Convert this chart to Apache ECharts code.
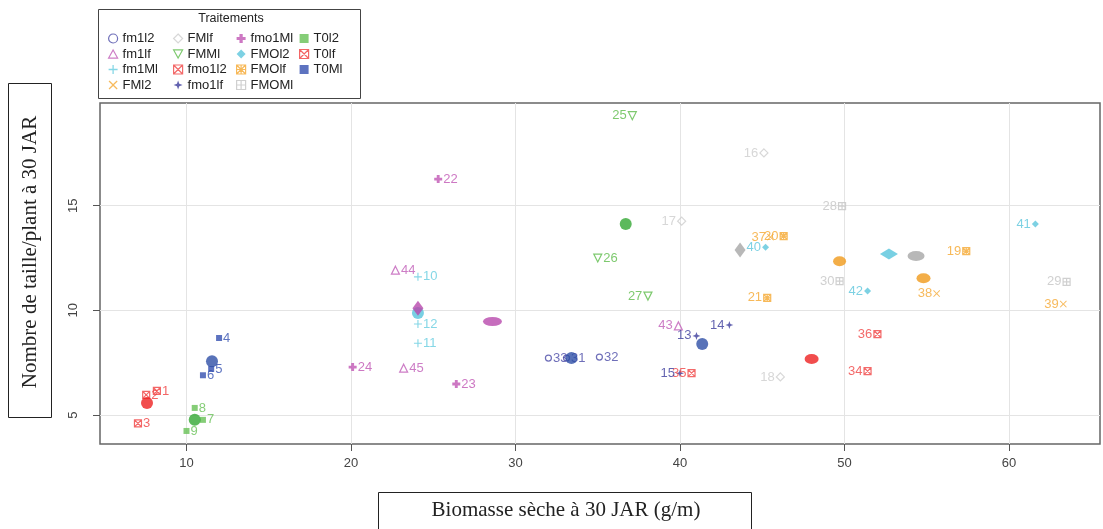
<!DOCTYPE html>
<html>
<head>
<meta charset="utf-8">
<script src="https://cdn.jsdelivr.net/npm/echarts@6/dist/echarts.min.js"></script>
<style>html,body{margin:0;padding:0;background:#fff}#chart{width:1103px;height:529px}</style>
</head>
<body>
<div id="chart"></div>
<script>
// traitements, dans l'ordre de la légende
var treatments = ['fm1l2','fm1lf','fm1Ml','FMl2','FMlf','FMMl','fmo1l2','fmo1lf','fmo1Ml','FMOl2','FMOlf','FMOMl','T0l2','T0lf','T0Ml'];

// parcelles numérotées 1..45
var pointIds = [1,2,3,4,5,6,7,8,9,10,11,12,13,14,15,16,17,18,19,20,21,22,23,24,25,26,27,28,29,30,31,32,33,34,35,36,37,38,39,40,41,42,43,44,45];
var pointGroup = ['T0lf','T0lf','T0lf','T0Ml','T0Ml','T0Ml','T0l2','T0l2','T0l2','fm1Ml','fm1Ml','fm1Ml',
  'fmo1lf','fmo1lf','fmo1lf','FMlf','FMlf','FMlf','FMOlf','FMOlf','FMOlf','fmo1Ml','fmo1Ml','fmo1Ml',
  'FMMl','FMMl','FMMl','FMOMl','FMOMl','FMOMl','fm1l2','fm1l2','fm1l2','fmo1l2','fmo1l2','fmo1l2',
  'FMl2','FMl2','FMl2','FMOl2','FMOl2','FMOl2','fm1lf','fm1lf','fm1lf'];
var pointX = [8.2,7.55,7.05,11.98,11.5,11.0,11.0,10.5,10.0,24.07,24.07,24.07,
  41.0,43.0,40.0,45.1,40.1,46.1,57.4,46.3,45.3,25.3,26.4,20.1,
  37.1,35.0,38.05,49.85,63.5,49.7,33.1,35.1,32.0,51.4,40.7,52.0,
  45.5,55.6,63.3,45.2,61.6,51.4,39.9,22.7,23.2];
var pointY = [6.15,5.96,4.6,8.68,7.2,6.9,4.77,5.34,4.24,11.6,8.43,9.35,
  8.78,9.3,7.0,17.52,14.26,6.82,12.83,13.55,10.6,16.27,6.48,7.29,
  19.3,12.5,10.68,14.98,11.36,11.4,7.72,7.77,7.72,7.1,7.0,8.87,
  13.5,10.8,10.3,13.02,14.12,10.92,9.26,11.92,7.24];

// moyennes par traitement (gros symboles pleins)
var meanGroup = ['T0lf','T0Ml','T0l2','fm1Ml','fmo1Ml','fm1lf','FMMl','fm1l2','fmo1lf','FMlf','fmo1l2','FMOlf','FMOl2','FMOMl','FMl2'];
var meanX = [7.6,11.55,10.5,24.07,24.07,28.6,36.7,33.4,41.35,43.65,48.0,49.7,52.7,54.35,54.8];
var meanY = [5.57,7.57,4.77,9.87,10.1,9.47,14.12,7.73,8.39,12.88,7.68,12.35,12.69,12.6,11.53];

var xTicks = [10,20,30,40,50,60];
var yTicks = [5,10,15];

// étiquettes placées à gauche du symbole
var leftLabels = [13,14,15,16,17,18,19,20,21,25,27,28,29,30,34,35,36,37,38,39,40,41,42,43];

var P_PLUS = 'path://M4.3,0H5.7V4.3H10V5.7H5.7V10H4.3V5.7H0V4.3H4.3Z';
var P_CROSS = 'path://M0,1L1,0L5,4L9,0L10,1L6,5L10,9L9,10L5,6L1,10L0,9L4,5Z';
var P_SQX = 'path://M0,0H10V10H0Z M0,0L10,10 M10,0L0,10';
var P_SQPLUS = 'path://M0,0H10V10H0Z M5,0V10 M0,5H10';
var P_STAR = 'path://M5,0L6.3,3.7L10,5L6.3,6.3L5,10L3.7,6.3L0,5L3.7,3.7Z';
var P_FATPLUS = 'path://M3.2,0H6.8V3.2H10V6.8H6.8V10H3.2V6.8H0V3.2H3.2Z';
var P_SQAST = 'path://M0,0H10V10H0Z M5,0V10 M0,5H10 M0,0L10,10 M10,0L0,10';
var P_TRI = 'path://M5,0L10,9H0Z';
var P_TRIDOWN = 'path://M0,0H10L5,9Z';
var P_DIAM = 'path://M5,0L10,5L5,10L0,5Z';

var styles = {
  fm1l2:  {color:'#4b4ba8', symbol:'circle', hollow:true, size:6},
  fm1lf:  {color:'#c05cb8', symbol:P_TRI, hollow:true, size:8},
  fm1Ml:  {color:'#66cde0', symbol:P_PLUS, size:8},
  FMl2:   {color:'#f5a935', symbol:P_CROSS, size:7},
  FMlf:   {color:'#cdcdcd', symbol:P_DIAM, hollow:true, size:8},
  FMMl:   {color:'#5cbb4a', symbol:P_TRIDOWN, hollow:true, size:8},
  fmo1l2: {color:'#f04545', symbol:P_SQX, hollow:true, size:7},
  fmo1lf: {color:'#3c3c9c', symbol:P_STAR, size:8},
  fmo1Ml: {color:'#c056b4', symbol:P_FATPLUS, size:8},
  FMOl2:  {color:'#5cc6dc', symbol:'diamond', size:7},
  FMOlf:  {color:'#f5a830', symbol:P_SQAST, hollow:true, size:7},
  FMOMl:  {color:'#c4c4c4', symbol:P_SQPLUS, hollow:true, size:7},
  T0l2:   {color:'#66c055', symbol:'rect', size:6},
  T0lf:   {color:'#f04040', symbol:P_SQX, hollow:true, size:7},
  T0Ml:   {color:'#3450b0', symbol:'rect', size:6}
};
var meanStyles = {
  T0lf:{c:'#ee2020'}, T0Ml:{c:'#2e4fa6'}, T0l2:{c:'#33a833'}, fm1Ml:{c:'#56c4dc'},
  fmo1Ml:{c:'#b849ad', s:'diamond', z:[11,15]}, fm1lf:{c:'#b849ad', z:[19,9]},
  FMMl:{c:'#33a833'}, fm1l2:{c:'#2e4fa6'}, fmo1lf:{c:'#2e4fa6'},
  FMlf:{c:'#a6a6a6', s:'diamond', z:[11,15]}, fmo1l2:{c:'#ee2020', z:[14,10]},
  FMOlf:{c:'#f09a1a', z:[13,10]}, FMOl2:{c:'#56c4dc', s:'diamond', z:[18,11]},
  FMOMl:{c:'#a6a6a6', z:[17,10]}, FMl2:{c:'#f09a1a', z:[14,10]}
};

function markStyle(st) {
  return st.hollow
    ? {color: 'rgba(255,255,255,0)', borderColor: st.color, borderWidth: 1.2}
    : {color: st.color, borderWidth: 0};
}

var series = treatments.map(function (t) {
  var st = styles[t];
  var data = [];
  for (var i = 0; i < pointIds.length; i++) {
    if (pointGroup[i] !== t) continue;
    data.push({
      value: [pointX[i], pointY[i], pointIds[i]],
      label: {position: leftLabels.indexOf(pointIds[i]) >= 0 ? 'left' : 'right'}
    });
  }
  return {
    name: t, type: 'scatter', data: data, z: 2,
    symbol: st.symbol, symbolSize: st.size,
    itemStyle: markStyle(st),
    label: {show: true, distance: 1, color: st.color, fontSize: 13, fontFamily: 'Liberation Sans',
      formatter: function (p) { return p.value[2]; }},
    emphasis: {disabled: true}
  };
});

series.push({
  name: 'moyennes', type: 'scatter', z: 5, silent: true,
  data: meanGroup.map(function (g, i) {
    var m = meanStyles[g];
    return {value: [meanX[i], meanY[i]], symbol: m.s || 'circle', symbolSize: m.z || 12, itemStyle: {color: m.c}};
  })
});

function legendCol(left, names) {
  return {
    orient: 'vertical', left: left, top: 27, itemWidth: 9, itemHeight: 9, itemGap: 2.5,
    selectedMode: false,
    data: names.map(function (n) {
      return {name: n, icon: styles[n].symbol, itemStyle: markStyle(styles[n])};
    }),
    textStyle: {fontSize: 13, lineHeight: 13, color: '#222', fontFamily: 'Liberation Sans'}
  };
}

var chart = echarts.init(document.getElementById('chart'));
chart.setOption({
  animation: false,
  grid: {left: 100, right: 3, top: 103, bottom: 85, show: true, borderColor: '#666', borderWidth: 1.5},
  legend: [
    legendCol(103, ['fm1l2','fm1lf','fm1Ml','FMl2']),
    legendCol(168, ['FMlf','FMMl','fmo1l2','fmo1lf']),
    legendCol(231, ['fmo1Ml','FMOl2','FMOlf','FMOMl']),
    legendCol(294, ['T0l2','T0lf','T0Ml'])
  ],
  xAxis: {
    type: 'value', min: 4.742, max: 65.53, splitNumber: 6,
    axisLine: {show: false},
    axisTick: {customValues: xTicks, length: 7, lineStyle: {color: '#555'}},
    axisLabel: {customValues: xTicks, margin: 13, fontSize: 13, color: '#444', fontFamily: 'Liberation Sans'},
    splitLine: {lineStyle: {color: '#e4e4e4'}}
  },
  yAxis: {
    type: 'value', min: 3.617, max: 19.905, splitNumber: 3,
    axisLine: {show: false},
    axisTick: {customValues: yTicks, length: 7, lineStyle: {color: '#555'}},
    axisLabel: {customValues: yTicks, rotate: 90, margin: 20, fontSize: 13, color: '#444', fontFamily: 'Liberation Sans'},
    splitLine: {lineStyle: {color: '#e4e4e4'}}
  },
  graphic: [
    {type: 'rect', shape: {x: 98.5, y: 9.5, width: 262, height: 89}, style: {fill: '#fff', stroke: '#444', lineWidth: 1}, z: -1},
    {type: 'text', x: 231, y: 19, style: {text: 'Traitements', font: '12.5px "Liberation Sans"', fill: '#222', textAlign: 'center', textVerticalAlign: 'middle'}},
    {type: 'rect', shape: {x: 8.5, y: 83.5, width: 43, height: 334}, style: {fill: '#fff', stroke: '#222', lineWidth: 1}},
    {type: 'text', x: 30, y: 252, rotation: Math.PI / 2,
      style: {text: 'Nombre de taille/plant à 30 JAR', font: '21px "Liberation Serif"', fill: '#222', textAlign: 'center', textVerticalAlign: 'middle'}},
    {type: 'rect', shape: {x: 378.5, y: 492.5, width: 373, height: 50}, style: {fill: '#fff', stroke: '#222', lineWidth: 1}},
    {type: 'text', x: 566, y: 510,
      style: {text: 'Biomasse sèche à 30 JAR (g/m)', font: '21px "Liberation Serif"', fill: '#222', textAlign: 'center', textVerticalAlign: 'middle'}}
  ],
  series: series
});
</script>
</body>
</html>
